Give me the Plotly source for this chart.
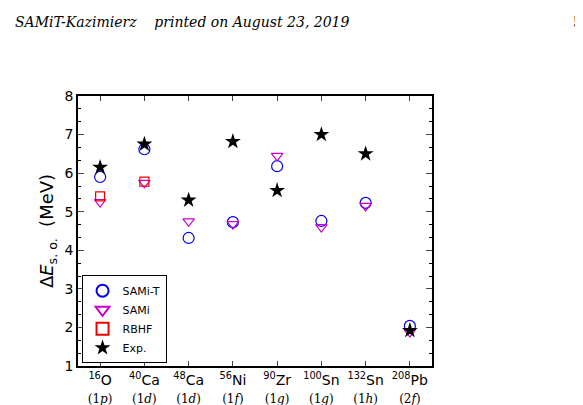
import plotly.graph_objects as go

nuclei = ["<sup>16</sup>O", "<sup>40</sup>Ca", "<sup>48</sup>Ca", "<sup>56</sup>Ni",
          "<sup>90</sup>Zr", "<sup>100</sup>Sn", "<sup>132</sup>Sn", "<sup>208</sup>Pb"]
orbits = ["(1<i>p</i>)", "(1<i>d</i>)", "(1<i>d</i>)", "(1<i>f</i>)",
          "(1<i>g</i>)", "(1<i>g</i>)", "(1<i>h</i>)", "(2<i>f</i>)"]
x_pos = list(range(len(nuclei)))

sami_t = [5.90, 6.62, 4.32, 4.73, 6.18, 4.76, 5.23, 2.04]
sami = [5.25, 5.75, 4.75, 4.68, 6.45, 4.60, 5.15, 1.88]
rbhf_x = [0, 1]
rbhf = [5.40, 5.78]
exp = [6.15, 6.75, 5.30, 6.82, 5.55, 7.00, 6.50, 1.92]

fig = go.Figure()
fig.add_trace(go.Scatter(x=x_pos, y=sami_t, mode="markers", name="SAMi-T",
                         marker=dict(symbol="circle-open", size=11, color="#0000ee", line=dict(width=1.2))))
fig.add_trace(go.Scatter(x=x_pos, y=sami, mode="markers", name="SAMi",
                         marker=dict(symbol="triangle-down-open", size=10, color="#cc00cc", line=dict(width=1.2))))
fig.add_trace(go.Scatter(x=rbhf_x, y=rbhf, mode="markers", name="RBHF",
                         marker=dict(symbol="square-open", size=9, color="#ee0000", line=dict(width=1.2))))
fig.add_trace(go.Scatter(x=x_pos, y=exp, mode="markers", name="Exp.",
                         marker=dict(symbol="star", size=12, color="black")))

fig.update_layout(
    width=583, height=405,
    margin=dict(l=70, r=159, t=88, b=47, autoexpand=False),
    plot_bgcolor="white", paper_bgcolor="white",
    font=dict(family="DejaVu Sans", size=13, color="black"),
    showlegend=True,
    legend=dict(x=0.01, y=0.01, xanchor="left", yanchor="bottom",
                bordercolor="black", borderwidth=1, bgcolor="white",
                font=dict(size=11), tracegroupgap=0, itemsizing="constant"),
    xaxis=dict(range=[-0.5, 7.5], tickmode="array", tickvals=x_pos,
               ticktext=[f"{n}<br><span style='font-family:DejaVu Serif;font-size:12px'>{o}</span>"
                         for n, o in zip(nuclei, orbits)],
               showline=True, linecolor="black", linewidth=1.5, mirror="ticks",
               ticks="inside", ticklen=5, showgrid=False, zeroline=False,
               tickfont=dict(size=14), automargin=False),
    yaxis=dict(range=[1, 8], dtick=1, showline=True, linecolor="black", linewidth=1.5,
               mirror="ticks", ticks="inside", ticklen=6, showgrid=False, zeroline=False,
               minor=dict(dtick=1/3, ticks="inside", ticklen=3, tickcolor="black"),
               title=dict(text="Δ<i>E</i><sub>s. o.</sub>  (MeV)", font=dict(size=18), standoff=6),
               tickfont=dict(size=14), automargin=False),
)
fig.add_annotation(text="<i>SAMiT-Kazimierz    printed on August 23, 2019</i>", xref="paper", yref="paper",
                   x=-0.184, y=1.31, xanchor="left", yanchor="top", showarrow=False,
                   font=dict(family="DejaVu Serif", size=14))
fig.add_annotation(text="5", xref="paper", yref="paper", x=1.43, y=1.31, xanchor="right",
                   yanchor="top", showarrow=False, font=dict(family="DejaVu Serif", size=14))

fig.write_html("out.html")
